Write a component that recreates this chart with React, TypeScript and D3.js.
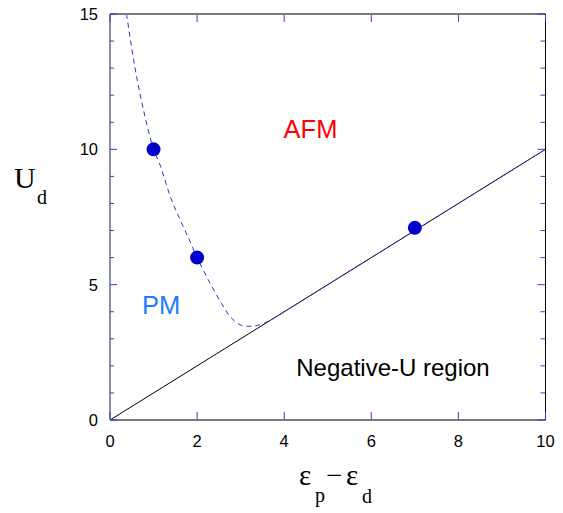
import React from "react";
import * as d3 from "d3";

// Data
const xTicks = [0, 2, 4, 6, 8, 10];
const yMajorTicks = [0, 5, 10, 15];
const yMinorTicks = [1, 2, 3, 4, 6, 7, 8, 9, 11, 12, 13, 14];
const dotsX = [1, 2, 7];
const dotsY = [10, 6, 7.1];
const boundaryX = [0, 10];
const boundaryY = [0, 10];
const curveX = [0.38, 0.57, 0.77, 1.0, 1.15, 1.4, 1.63, 1.84, 2.0, 2.3, 2.56, 2.76, 3.0, 3.3, 3.6, 4, 5, 6, 7, 8, 9, 10];
const curveY = [15, 13.05, 11.45, 10.0, 9.42, 8.19, 7.33, 6.59, 6.0, 5.05, 4.31, 3.82, 3.51, 3.47, 3.62, 4, 5, 6, 7, 8, 9, 10];

const W = 563;
const H = 513;
const L = 110;
const R = 545.5;
const T = 14;
const B = 420;

export default function App() {
  const x = d3.scaleLinear().domain([0, 10]).range([L, R]);
  const y = d3.scaleLinear().domain([0, 15]).range([B, T]);

  const curvePts: [number, number][] = curveX.map((v, i) => [x(v), y(curveY[i])]);
  const curvePath = d3.line().curve(d3.curveCatmullRom.alpha(0.5))(curvePts) || "";
  const linePath =
    d3.line()(boundaryX.map((v, i) => [x(v), y(boundaryY[i])] as [number, number])) || "";

  const tickColor = "#3a3ad8";
  const sans = "'Liberation Sans', Arial, Helvetica, sans-serif";
  const serif = "'Liberation Serif', 'Times New Roman', serif";

  return (
    <svg
      width={W}
      height={H}
      style={{ position: "absolute", left: 0, top: 0, background: "#fff" }}
    >
      <rect x={0} y={0} width={W} height={H} fill="#fff" />
      {/* boundary line y = x */}
      <path d={linePath} stroke="#000" strokeWidth={1} fill="none" />
      {/* dashed curve */}
      <path
        d={curvePath}
        stroke="#2f2fe0"
        strokeWidth={1}
        strokeDasharray="5,4"
        fill="none"
      />
      {/* frame */}
      <line x1={L} x2={R} y1={T} y2={T} stroke="#7a7a7a" strokeWidth={2} />
      <line x1={L} x2={R} y1={B} y2={B} stroke="#7a7a7a" strokeWidth={2} />
      <line x1={L} x2={L} y1={T} y2={B} stroke="#1a1a4a" strokeWidth={1} />
      <line x1={R} x2={R} y1={T} y2={B} stroke="#000" strokeWidth={1} />
      {/* x ticks */}
      {xTicks.map((t) => (
        <g key={"xt" + t}>
          <line x1={x(t)} x2={x(t)} y1={B - 1} y2={B - 8} stroke={tickColor} strokeWidth={1} />
          <line x1={x(t)} x2={x(t)} y1={T + 1} y2={T + 8} stroke={tickColor} strokeWidth={1} />
          <text
            x={x(t)}
            y={B + 27}
            textAnchor="middle"
            fontFamily={sans}
            fontSize={16.5}
            fill="#000"
          >
            {t}
          </text>
        </g>
      ))}
      {/* y ticks */}
      {yMajorTicks.map((t) => (
        <g key={"ym" + t}>
          <line x1={L} x2={L + 7} y1={y(t)} y2={y(t)} stroke={tickColor} strokeWidth={1} />
          <line x1={R} x2={R - 8} y1={y(t)} y2={y(t)} stroke={tickColor} strokeWidth={1} />
          <text
            x={L - 12}
            y={y(t) + 6}
            textAnchor="end"
            fontFamily={sans}
            fontSize={16.5}
            fill="#000"
          >
            {t}
          </text>
        </g>
      ))}
      {yMinorTicks.map((t) => (
        <g key={"yn" + t}>
          <line x1={L} x2={L + 4} y1={y(t)} y2={y(t)} stroke={tickColor} strokeWidth={1} />
          <line x1={R} x2={R - 5} y1={y(t)} y2={y(t)} stroke={tickColor} strokeWidth={1} />
        </g>
      ))}
      {/* dots */}
      {dotsX.map((v, i) => (
        <circle key={"d" + i} cx={x(v)} cy={y(dotsY[i])} r={7} fill="#0000cc" />
      ))}
      {/* region labels */}
      <text x={310.5} y={138} textAnchor="middle" fontFamily={sans} fontSize={25.5} fill="#ff0000">
        AFM
      </text>
      <text x={161} y={314} textAnchor="middle" fontFamily={sans} fontSize={25.5} fill="#1f7bff">
        PM
      </text>
      <text x={393} y={376} textAnchor="middle" fontFamily={sans} fontSize={24} fill="#000">
        Negative-U region
      </text>
      {/* axis titles */}
      <text x={14} y={188} fontFamily={serif} fontSize={30} fill="#000">
        U
      </text>
      <text x={37} y={204} fontFamily={serif} fontSize={20} fill="#000">
        d
      </text>
      <text x={299} y={485} fontFamily={serif} fontSize={29} fill="#000">
        ε
      </text>
      <text x={315} y={502} fontFamily={serif} fontSize={20} fill="#000">
        p
      </text>
      <text x={326} y={485} fontFamily={serif} fontSize={29} fill="#000">
        −
      </text>
      <text x={346} y={485} fontFamily={serif} fontSize={29} fill="#000">
        ε
      </text>
      <text x={362} y={503} fontFamily={serif} fontSize={20} fill="#000">
        d
      </text>
    </svg>
  );
}
